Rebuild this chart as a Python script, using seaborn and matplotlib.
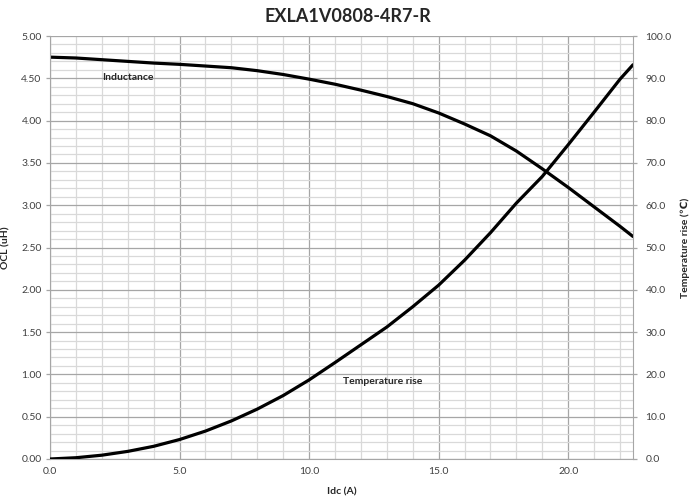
import numpy as np
import pandas as pd
import matplotlib
matplotlib.use("Agg")
import matplotlib.pyplot as plt
from matplotlib.ticker import MultipleLocator, FormatStrFormatter
import seaborn as sns

# Datos
idc = [0, 1, 2, 3, 4, 5, 6, 7, 8, 9, 10, 11, 12, 13, 14, 15, 16, 17, 18, 19, 20, 21, 22, 22.5]
ocl = [4.75, 4.74, 4.72, 4.70, 4.68, 4.665, 4.645, 4.625, 4.59, 4.545, 4.49, 4.43, 4.36,
       4.285, 4.20, 4.09, 3.96, 3.82, 3.64, 3.43, 3.21, 2.98, 2.75, 2.63]
temp_rise = [0, 0.3, 0.9, 1.8, 3.0, 4.6, 6.6, 9.0, 11.8, 15.0, 18.7, 22.8, 27.0, 31.2, 36.0,
             41.1, 47.0, 53.5, 60.5, 66.8, 74.3, 82.0, 89.8, 93.2]

df = pd.DataFrame({'Idc': idc, 'OCL': ocl, 'Temp': temp_rise})

sns.set_style('white')
plt.rcParams['font.family'] = ['Lato', 'DejaVu Sans']

fig = plt.figure(figsize=(6.96, 5.0), dpi=100)
ax = fig.add_axes([50/696, 41/500, 583/696, 423/500])
ax2 = ax.twinx()

# Rejilla
ax.set_xlim(0, 22.5)
ax.set_ylim(0, 5)
ax.xaxis.set_major_locator(MultipleLocator(5))
ax.xaxis.set_minor_locator(MultipleLocator(1))
ax.yaxis.set_major_locator(MultipleLocator(0.5))
ax.yaxis.set_minor_locator(MultipleLocator(0.1))
ax.xaxis.set_major_formatter(FormatStrFormatter('%.1f'))
ax.yaxis.set_major_formatter(FormatStrFormatter('%.2f'))
ax.grid(which='minor', color='#d9d9d9', lw=0.9)
ax.grid(which='major', color='#a6a6a6', lw=0.9)
ax.set_axisbelow(True)

ax2.set_ylim(0, 100)
ax2.yaxis.set_major_locator(MultipleLocator(10))
ax2.yaxis.set_major_formatter(FormatStrFormatter('%.1f'))

sns.lineplot(data=df, x='Idc', y='OCL', ax=ax, color='black', lw=2.3)
sns.lineplot(data=df, x='Idc', y='Temp', ax=ax2, color='black', lw=2.3)

for a in (ax, ax2):
    for s in a.spines.values():
        s.set_visible(False)
    a.tick_params(which='minor', length=0)
    a.tick_params(which='major', length=3, color='#a6a6a6', labelsize=7.5,
                  labelcolor='#404040', width=0.9)
ax.spines['bottom'].set_visible(True)
ax.spines['bottom'].set_color('#a6a6a6')
ax.spines['left'].set_visible(True)
ax.spines['left'].set_color('#a6a6a6')
ax2.spines['right'].set_visible(True)
ax2.spines['right'].set_color('#a6a6a6')
ax.tick_params(axis='x', length=0, pad=6)
ax.tick_params(axis='y', pad=3)
ax2.tick_params(axis='y', pad=6)

ax.set_xlabel('Idc (A)', fontsize=7.5, fontweight='bold', labelpad=8)
ax.set_ylabel('OCL (uH)', fontsize=7.5, fontweight='bold', labelpad=8)
ax2.set_ylabel('Temperature rise (℃)', fontsize=7.5, fontweight='bold', labelpad=6)
fig.suptitle('EXLA1V0808-4R7-R', fontsize=13, fontweight='bold', y=0.985)

ax.text(2.0, 4.48, 'Inductance', fontsize=7.5, fontweight='bold')
ax2.text(11.3, 17.8, 'Temperature rise', fontsize=7.5, fontweight='bold')

fig.savefig('out.png', dpi=100)
